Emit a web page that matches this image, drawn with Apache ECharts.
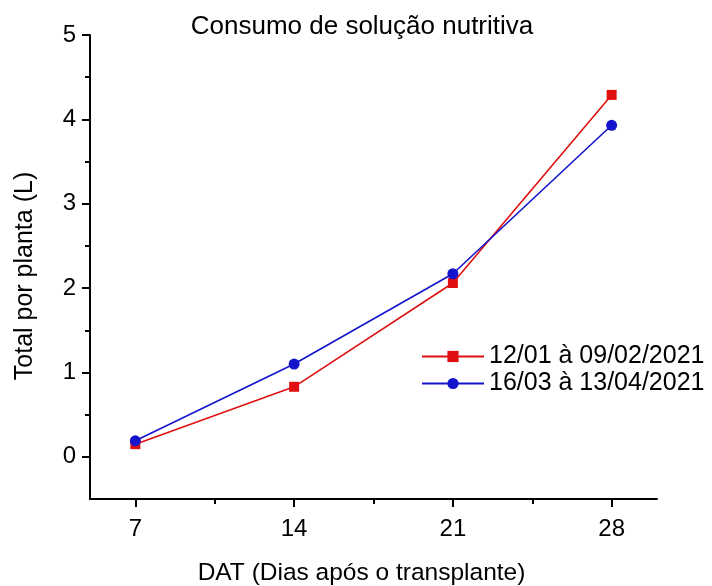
<!DOCTYPE html>
<html>
<head>
<meta charset="utf-8">
<script src="https://cdn.jsdelivr.net/npm/echarts@6/dist/echarts.min.js"></script>
<style>
  html, body { margin: 0; padding: 0; background: #fff; }
  #chart { width: 712px; height: 586px; }
</style>
</head>
<body>
<div id="chart"></div>
<script>
// Days after transplant
const days = [7, 14, 21, 28];
// Cumulative nutrient solution per plant (L)
const seriesJanFeb = [0.15, 0.83, 2.06, 4.29];
const seriesMarApr = [0.19, 1.10, 2.17, 3.93];
const seriesNames = ['12/01 à 09/02/2021', '16/03 à 13/04/2021'];
// Axis ticks
const xTicks = [7, 14, 21, 28];
const xMinorTicks = [10.5, 17.5, 24.5];
const yTicks = [0, 1, 2, 3, 4, 5];
const yMinorTicks = [0.5, 1.5, 2.5, 3.5, 4.5];

const FONT = 'Liberation Sans, Arial, sans-serif';
const RED = '#e01010';
const BLUE = '#1414cc';

const chart = echarts.init(document.getElementById('chart'));

const axisLine = { show: true, onZero: false, lineStyle: { color: '#000', width: 2 } };
const tickStyle = { color: '#000', width: 2 };

chart.setOption({
  animation: false,
  title: {
    text: 'Consumo de solução nutritiva',
    left: 357, top: 9, textAlign: 'center',
    textStyle: { fontFamily: FONT, fontSize: 26, fontWeight: 'normal', color: '#000' }
  },
  legend: {
    left: 416, top: 339, orient: 'vertical', itemGap: 2,
    itemWidth: 62, itemHeight: 14,
    textStyle: { fontFamily: FONT, fontSize: 25, color: '#000' },
    data: seriesNames
  },
  grid: { left: 90, right: 55, top: 35, bottom: 87, outerBoundsMode: 'none', containLabel: false },
  xAxis: [
    {
      type: 'value', min: 5, max: 30,
      name: 'DAT (Dias após o transplante)', nameLocation: 'middle', nameGap: 62,
      nameTextStyle: { fontFamily: FONT, fontSize: 24.5, color: '#000', padding: [0, 24, 0, 0] },
      axisLine,
      splitLine: { show: false },
      axisTick: { show: true, customValues: xTicks, length: 8, lineStyle: tickStyle },
      axisLabel: { customValues: xTicks, fontFamily: FONT, fontSize: 24, color: '#000', margin: 18 }
    },
    {
      type: 'value', min: 5, max: 30, position: 'bottom',
      axisLine: { show: false, onZero: false },
      splitLine: { show: false },
      axisTick: { show: true, customValues: xMinorTicks, length: 5, lineStyle: tickStyle },
      axisLabel: { show: false }
    }
  ],
  yAxis: [
    {
      type: 'value', min: -0.5, max: 5,
      name: 'Total por planta (L)', nameLocation: 'middle', nameGap: 52,
      nameTextStyle: { fontFamily: FONT, fontSize: 25, color: '#000', padding: [0, 18, 0, 0] },
      axisLine,
      splitLine: { show: false },
      axisTick: { show: true, customValues: yTicks, length: 8, lineStyle: tickStyle },
      axisLabel: { customValues: yTicks, fontFamily: FONT, fontSize: 24, color: '#000', margin: 14 }
    },
    {
      type: 'value', min: -0.5, max: 5, position: 'left',
      axisLine: { show: false, onZero: false },
      splitLine: { show: false },
      axisTick: { show: true, customValues: yMinorTicks, length: 5, lineStyle: tickStyle },
      axisLabel: { show: false }
    }
  ],
  series: [
    {
      name: seriesNames[0], type: 'line',
      data: days.map((d, i) => [d, seriesJanFeb[i]]),
      symbol: 'rect', symbolSize: 10,
      lineStyle: { color: RED, width: 1.6 },
      itemStyle: { color: RED }
    },
    {
      name: seriesNames[1], type: 'line',
      data: days.map((d, i) => [d, seriesMarApr[i]]),
      symbol: 'circle', symbolSize: 11,
      lineStyle: { color: BLUE, width: 1.6 },
      itemStyle: { color: BLUE }
    }
  ]
});
</script>
</body>
</html>
